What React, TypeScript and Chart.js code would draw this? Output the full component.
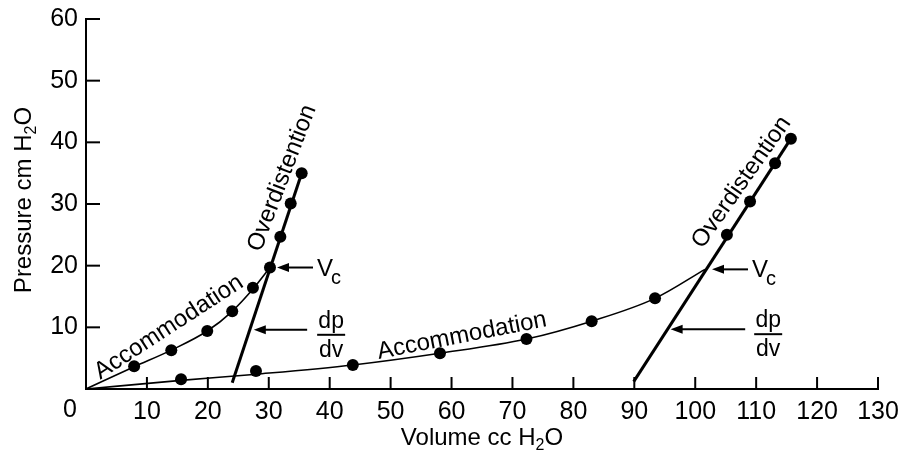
import React, { useEffect, useRef } from "react";
import { Chart, registerables } from "chart.js";

Chart.register(...registerables);

// ---- Axis ticks ----
const xTickValues = [0, 10, 20, 30, 40, 50, 60, 70, 80, 90, 100, 110, 120, 130];
const yTickValues = [0, 10, 20, 30, 40, 50, 60];

// ---- Left (small) lung: measured points ----
const leftDotVolumes = [7.9, 14.0, 19.9, 24.0, 27.4, 30.2, 31.9, 33.6, 35.4];
const leftDotPressures = [3.7, 6.3, 9.4, 12.6, 16.4, 19.7, 24.7, 30.1, 35.0];
// accommodation curve
const leftCurveVolumes = [0, 7.9, 14.0, 19.9, 24.0, 27.4, 30.2];
const leftCurvePressures = [0, 3.6, 6.3, 9.4, 12.6, 16.2, 19.7];
// dp/dv (overdistention) line
const leftSlopeVolumes = [24.0, 35.4];
const leftSlopePressures = [1.0, 35.0];

// ---- Right (large) lung ----
const rightDotVolumes = [15.6, 27.9, 43.8, 58.1, 72.3, 83.0, 93.4, 105.2, 109.0, 113.1, 115.7];
const rightDotPressures = [1.6, 2.9, 3.9, 5.8, 8.1, 11.0, 14.7, 25.0, 30.4, 36.6, 40.6];
const rightCurveVolumes = [0, 15.6, 28.0, 43.8, 58.1, 72.3, 83.0, 93.4, 101.6];
const rightCurvePressures = [0, 1.4, 2.4, 3.9, 5.8, 8.1, 11.0, 14.7, 19.4];
const rightSlopeVolumes = [89.9, 115.7];
const rightSlopePressures = [1.2, 40.6];

// ---- Critical volume (Vc) points ----
const criticalVolumes = [30.2, 101.6];
const criticalPressures = [19.7, 19.4];

const FONT = '"Liberation Sans", Arial, sans-serif';

const pts = (xs: number[], ys: number[]) => xs.map((x, i) => ({ x, y: ys[i] }));

function lineXAt(xs: number[], ys: number[], y: number) {
  return xs[0] + ((y - ys[0]) * (xs[1] - xs[0])) / (ys[1] - ys[0]);
}

function rotText(ctx: CanvasRenderingContext2D, text: string, x: number, y: number, deg: number) {
  ctx.save();
  ctx.translate(x, y);
  ctx.rotate((deg * Math.PI) / 180);
  ctx.textAlign = "center";
  ctx.textBaseline = "middle";
  ctx.fillText(text, 0, 0);
  ctx.restore();
}

// text with a subscript "2" (H2O), centered at x,y, rotated
function subText(
  ctx: CanvasRenderingContext2D,
  before: string,
  sub: string,
  after: string,
  x: number,
  y: number,
  deg: number,
  size: number
) {
  ctx.save();
  ctx.translate(x, y);
  ctx.rotate((deg * Math.PI) / 180);
  ctx.textAlign = "left";
  ctx.textBaseline = "middle";
  const big = `${size}px ${FONT}`;
  const small = `${Math.round(size * 0.68)}px ${FONT}`;
  ctx.font = big;
  const w1 = ctx.measureText(before).width;
  const w3 = ctx.measureText(after).width;
  ctx.font = small;
  const w2 = ctx.measureText(sub).width;
  const total = w1 + w2 + w3;
  let cx = -total / 2;
  ctx.font = big;
  ctx.fillText(before, cx, 0);
  cx += w1;
  ctx.font = small;
  ctx.fillText(sub, cx, size * 0.33);
  cx += w2;
  ctx.font = big;
  ctx.fillText(after, cx, 0);
  ctx.restore();
}

function arrowLeft(ctx: CanvasRenderingContext2D, tipX: number, tailX: number, y: number) {
  ctx.beginPath();
  ctx.lineWidth = 2;
  ctx.moveTo(tailX, y);
  ctx.lineTo(tipX + 8, y);
  ctx.stroke();
  ctx.beginPath();
  ctx.moveTo(tipX, y);
  ctx.lineTo(tipX + 12, y - 4.5);
  ctx.lineTo(tipX + 12, y + 4.5);
  ctx.closePath();
  ctx.fill();
}

function vcLabel(ctx: CanvasRenderingContext2D, x: number, y: number) {
  ctx.textAlign = "left";
  ctx.textBaseline = "alphabetic";
  ctx.font = `24px ${FONT}`;
  ctx.fillText("V", x, y + 8);
  const w = ctx.measureText("V").width;
  ctx.font = `20px ${FONT}`;
  ctx.fillText("c", x + w - 2, y + 16);
}

function fraction(ctx: CanvasRenderingContext2D, cx: number, y: number) {
  ctx.font = `23px ${FONT}`;
  ctx.textAlign = "center";
  ctx.textBaseline = "alphabetic";
  ctx.fillText("dp", cx, y - 2);
  ctx.beginPath();
  ctx.lineWidth = 2;
  ctx.moveTo(cx - 14, y + 5);
  ctx.lineTo(cx + 14, y + 5);
  ctx.stroke();
  ctx.fillText("dv", cx, y + 27);
}

const overlay = {
  id: "overlay",
  afterDraw(chart: any) {
    const ctx: CanvasRenderingContext2D = chart.ctx;
    const xs = chart.scales.x;
    const ys = chart.scales.y;
    const px = (v: number) => xs.getPixelForValue(v);
    const py = (v: number) => ys.getPixelForValue(v);
    const area = chart.chartArea;
    ctx.save();
    ctx.strokeStyle = "#000";
    ctx.fillStyle = "#000";

    // inward tick marks
    ctx.lineWidth = 2;
    const x0 = px(0);
    const y0 = py(0);
    xTickValues.forEach((v) => {
      if (v === 0) return;
      ctx.beginPath();
      ctx.moveTo(px(v), y0);
      ctx.lineTo(px(v), y0 - 12);
      ctx.stroke();
    });
    yTickValues.forEach((v) => {
      if (v === 0) return;
      ctx.beginPath();
      ctx.moveTo(x0, py(v));
      ctx.lineTo(x0 + 14, py(v));
      ctx.stroke();
    });

    // shared corner zero
    ctx.font = `25px ${FONT}`;
    ctx.textAlign = "center";
    ctx.textBaseline = "middle";
    ctx.fillText("0", x0 - 16, y0 + 21);

    // axis titles
    subText(ctx, "Pressure cm H", "2", "O", 24, (area.top + area.bottom) / 2 - 4, -90, 24);
    subText(ctx, "Volume cc H", "2", "O", (area.left + area.right) / 2, 438, 0, 24);

    // curve labels
    ctx.font = `24px ${FONT}`;
    rotText(ctx, "Accommodation", px(13.6), py(10.0), -33);
    rotText(ctx, "Accommodation", px(61.7), py(8.6), -11);
    rotText(ctx, "Overdistention", px(32.2), py(34.2), -69);
    rotText(ctx, "Overdistention", px(107.6), py(33.5), -55);

    // Vc arrows
    criticalVolumes.forEach((v, i) => {
      const tip = px(v) + 7;
      const tail = tip + 36;
      const y = py(criticalPressures[i]);
      arrowLeft(ctx, tip, tail, y);
      vcLabel(ctx, tail + 4, y);
    });

    // dp/dv arrows
    const lp = 9.6;
    const lTip = px(lineXAt(leftSlopeVolumes, leftSlopePressures, lp)) + 4;
    const lTail = px(36.3);
    arrowLeft(ctx, lTip, lTail, py(lp));
    fraction(ctx, lTail + 24, py(lp));

    const rp = 9.7;
    const rTip = px(lineXAt(rightSlopeVolumes, rightSlopePressures, rp)) + 3;
    const rTail = px(108.2);
    arrowLeft(ctx, rTip, rTail, py(rp));
    fraction(ctx, rTail + 23, py(rp));

    ctx.restore();
  },
};

export default function App() {
  const ref = useRef<HTMLCanvasElement>(null);
  useEffect(() => {
    if (!ref.current) return;
    const dotStyle = {
      showLine: false,
      pointRadius: 6,
      pointBackgroundColor: "#000",
      pointBorderWidth: 0,
      borderColor: "#000",
    };
    const thin = {
      showLine: true,
      pointRadius: 0,
      borderColor: "#000",
      borderWidth: 1.6,
      cubicInterpolationMode: "monotone" as const,
    };
    const thick = {
      showLine: true,
      pointRadius: 0,
      borderColor: "#000",
      borderWidth: 3,
    };
    const chart = new Chart(ref.current, {
      type: "scatter",
      data: {
        datasets: [
          { label: "left points", data: pts(leftDotVolumes, leftDotPressures), ...dotStyle },
          { label: "right points", data: pts(rightDotVolumes, rightDotPressures), ...dotStyle },
          { label: "left accommodation", data: pts(leftCurveVolumes, leftCurvePressures), ...thin },
          { label: "right accommodation", data: pts(rightCurveVolumes, rightCurvePressures), ...thin },
          { label: "left dp/dv", data: pts(leftSlopeVolumes, leftSlopePressures), ...thick },
          { label: "right dp/dv", data: pts(rightSlopeVolumes, rightSlopePressures), ...thick },
        ] as any,
      },
      options: {
        responsive: false,
        animation: false,
        devicePixelRatio: 1,
        layout: { padding: { top: 19, right: 23, left: 0, bottom: 0 } },
        plugins: { legend: { display: false }, tooltip: { enabled: false } },
        scales: {
          x: {
            type: "linear",
            min: 0,
            max: 130,
            afterFit: (s: any) => {
              s.height = 67;
            },
            afterBuildTicks: (s: any) => {
              s.ticks = xTickValues.map((value) => ({ value }));
            },
            grid: { display: false },
            border: { display: true, color: "#000", width: 2 },
            ticks: {
              color: "#000",
              padding: 0,
              font: { family: FONT, size: 25 },
              callback: (v: any) => (v === 0 ? "" : String(v)),
            },
          },
          y: {
            type: "linear",
            min: 0,
            max: 60,
            afterFit: (s: any) => {
              s.width = 86;
            },
            afterBuildTicks: (s: any) => {
              s.ticks = yTickValues.map((value) => ({ value }));
            },
            grid: { display: false },
            border: { display: true, color: "#000", width: 2 },
            ticks: {
              color: "#000",
              padding: 0,
              font: { family: FONT, size: 25 },
              callback: (v: any) => (v === 0 ? "" : String(v)),
            },
          },
        },
      },
      plugins: [overlay],
    });
    return () => chart.destroy();
  }, []);
  return (
    <div style={{ position: "fixed", left: 0, top: 0, width: 901, height: 456, background: "#fff" }}>
      <canvas ref={ref} width={901} height={456} style={{ display: "block" }} />
    </div>
  );
}
